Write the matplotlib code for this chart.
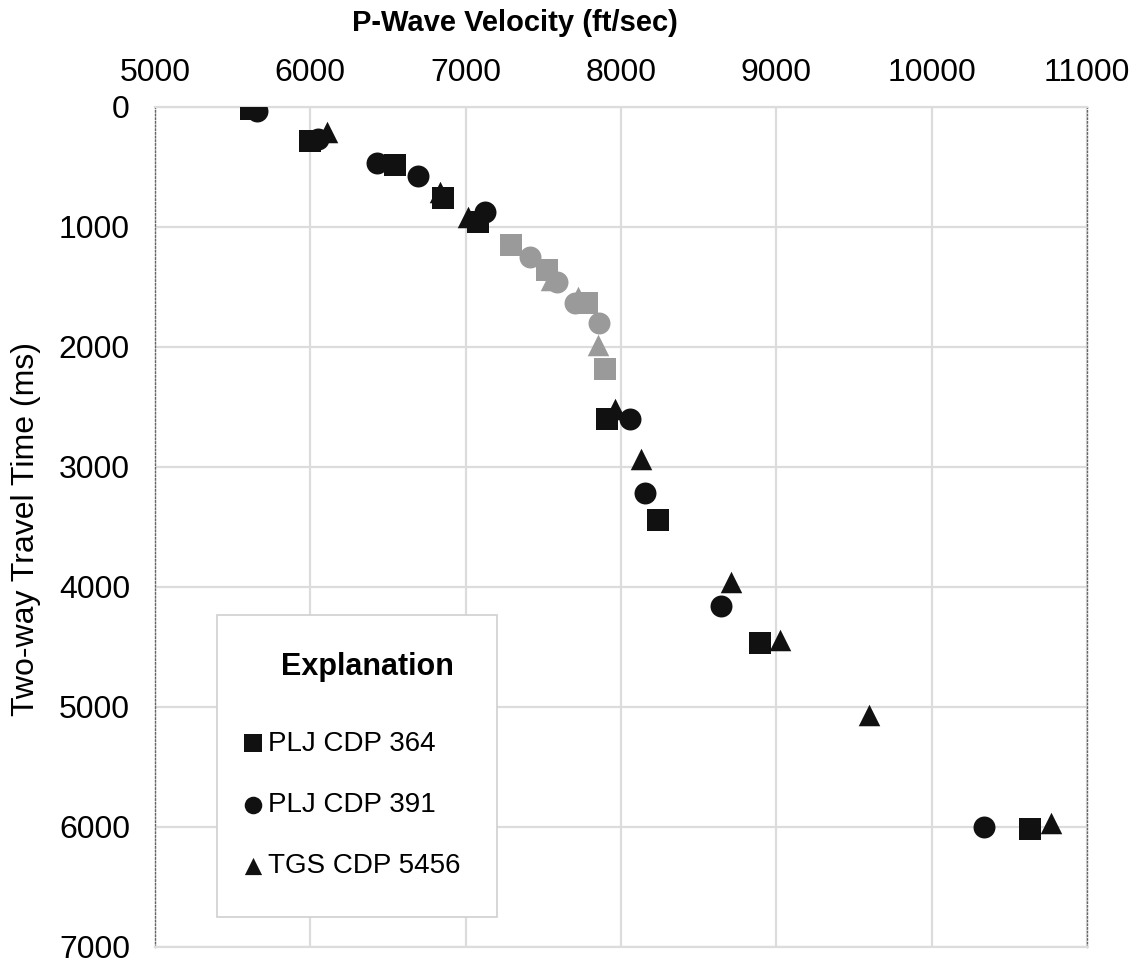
import matplotlib
matplotlib.use("Agg")
import matplotlib.pyplot as plt
from matplotlib.patches import Rectangle

plt.rcParams['font.family'] = ['Liberation Sans', 'DejaVu Sans']

# PLJ CDP 364 (squares)
cdp364_v = [5620, 6000, 6545, 6855, 7080, 7910, 8236, 8896, 10634]
cdp364_t = [20, 280, 483, 760, 960, 2600, 3440, 4470, 6020]
cdp364_gray_v = [7292, 7524, 7782, 7897]
cdp364_gray_t = [1150, 1358, 1633, 2183]

# PLJ CDP 391 (circles)
cdp391_v = [5660, 6050, 6430, 6693, 7125, 8055, 8153, 8646, 10336]
cdp391_t = [30, 265, 465, 575, 875, 2600, 3218, 4160, 6000]
cdp391_gray_v = [7415, 7589, 7705, 7859]
cdp391_gray_t = [1250, 1458, 1633, 1800]

# TGS CDP 5456 (triangles)
tgs5456_v = [6110, 6835, 7015, 7960, 8130, 8709, 9022, 9596, 10767]
tgs5456_t = [210, 710, 915, 2520, 2930, 3955, 4440, 5070, 5967]
tgs5456_gray_v = [7550, 7724, 7853]
tgs5456_gray_t = [1440, 1583, 1983]

x_ticks = [5000, 6000, 7000, 8000, 9000, 10000, 11000]
y_ticks = [0, 1000, 2000, 3000, 4000, 5000, 6000, 7000]

black = '#111111'
gray = '#9a9a9a'

fig = plt.figure(figsize=(11.47, 9.68), dpi=100)
ax = fig.add_axes([0.1351, 0.0217, 0.8126, 0.8678])

ax.scatter(cdp364_gray_v, cdp364_gray_t, marker='s', s=250, color=gray, linewidths=0, zorder=3)
ax.scatter(cdp391_gray_v, cdp391_gray_t, marker='o', s=250, color=gray, linewidths=0, zorder=3)
ax.scatter(tgs5456_gray_v, tgs5456_gray_t, marker='^', s=240, color=gray, linewidths=0, zorder=3)

ax.scatter(cdp364_v, cdp364_t, marker='s', s=250, color=black, linewidths=0, zorder=4, label='PLJ CDP 364')
ax.scatter(cdp391_v, cdp391_t, marker='o', s=250, color=black, linewidths=0, zorder=4, label='PLJ CDP 391')
ax.scatter(tgs5456_v, tgs5456_t, marker='^', s=240, color=black, linewidths=0, zorder=4, label='TGS CDP 5456')

ax.set_xlim(5000, 11000)
ax.set_ylim(7000, 0)
ax.set_xticks(x_ticks)
ax.set_yticks(y_ticks)
ax.xaxis.tick_top()
ax.tick_params(axis='x', length=0, pad=14, labelsize=23)
ax.tick_params(axis='y', length=0, pad=18, labelsize=23)

ax.grid(True, color='#dcdcdc', linewidth=1.6, zorder=0)
ax.set_axisbelow(True)
for side in ['left', 'right']:
    ax.spines[side].set_color('#666666')
    ax.spines[side].set_linestyle(':')
    ax.spines[side].set_linewidth(1.0)
for side in ['top', 'bottom']:
    ax.spines[side].set_color('#dcdcdc')
    ax.spines[side].set_linewidth(1.6)

ax.xaxis.set_label_position('top')
ax.set_xlabel('P-Wave Velocity (ft/sec)', fontsize=21, fontweight='bold')
ax.xaxis.label.set_va('center')
ax.xaxis.set_label_coords(0.386, 1.1)
ax.set_ylabel('Two-way Travel Time (ms)', fontsize=23)
ax.yaxis.label.set_va('center')
ax.yaxis.set_label_coords(-0.138, 0.497)

# explanation box
box = Rectangle((0.0665, 0.0357), 0.3004, 0.3595, transform=ax.transAxes,
                facecolor='white', edgecolor='#d0d0d0', linewidth=1.2, zorder=4.5)
ax.add_patch(box)
ax.text(0.2275, 0.3333, 'Explanation', transform=ax.transAxes, fontsize=22,
        fontweight='bold', ha='center', va='center', zorder=6)

leg = ax.legend(loc='upper left', bbox_to_anchor=(0.0966, 0.2575), fontsize=20,
                markerscale=0.8, frameon=False, borderpad=0, labelspacing=1.27,
                handlelength=0.6, handletextpad=0.23, borderaxespad=0)
leg.set_zorder(6)

fig.savefig('out.png', dpi=100)
plt.close(fig)
